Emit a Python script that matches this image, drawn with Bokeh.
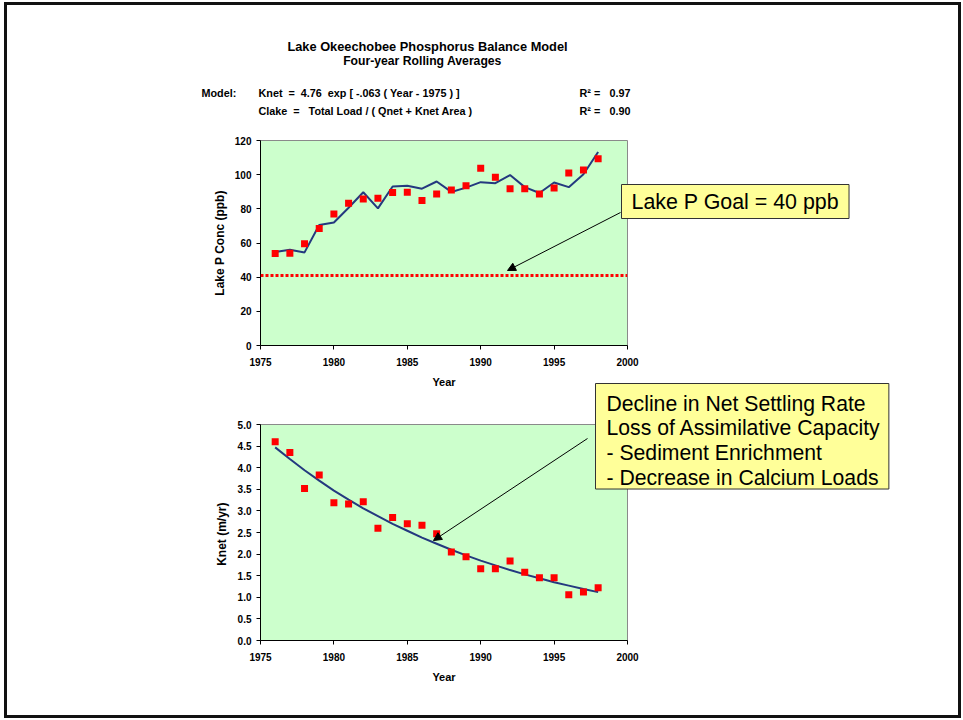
from bokeh.plotting import figure
from bokeh.layouts import column
from bokeh.models import (Range1d, FixedTicker, PrintfTickFormatter, Label, Arrow,
                          NormalHead, Span)
from bokeh.embed import file_html
from bokeh.resources import INLINE

# ---------------- data ----------------
years = list(range(1976, 1999))
conc_observed = [53.8, 54.0, 59.5, 68.5, 77.0, 83.3, 85.8, 86.2, 89.5, 89.7, 84.9, 88.7,
                 91.0, 93.5, 103.7, 98.5, 91.8, 91.8, 88.7, 92.2, 101.0, 102.7, 109.3]
conc_model = [54.7, 56.0, 54.5, 70.5, 72.0, 80.6, 89.7, 80.3, 93.1, 93.5, 91.8, 96.0,
              89.9, 92.4, 95.6, 95.0, 99.8, 92.7, 89.3, 95.4, 92.7, 100.2, 113.3]
knet_observed = [4.60, 4.35, 3.52, 3.83, 3.19, 3.16, 3.21, 2.60, 2.85, 2.70, 2.67, 2.47,
                 2.05, 1.94, 1.66, 1.66, 1.84, 1.58, 1.45, 1.45, 1.06, 1.12, 1.22]
knet_model = [4.47, 4.20, 3.94, 3.70, 3.47, 3.26, 3.06, 2.88, 2.70, 2.54, 2.38, 2.24,
              2.10, 1.97, 1.85, 1.74, 1.63, 1.53, 1.44, 1.35, 1.27, 1.19, 1.12]
goal_level = 41
x_ticks = [1975, 1980, 1985, 1990, 1995, 2000]
conc_ticks = [0, 20, 40, 60, 80, 100, 120]
knet_ticks = [0.0, 0.5, 1.0, 1.5, 2.0, 2.5, 3.0, 3.5, 4.0, 4.5, 5.0]

NB = "\u00a0"
title_text = "Lake Okeechobee Phosphorus Balance Model"
subtitle_text = "Four-year Rolling Averages"
model_lines = [f"Knet {NB}={NB} 4.76 {NB}exp [ -.063 ( Year - 1975 ) ]",
               f"Clake {NB}={NB}{NB} Total Load / ( Qnet + Knet Area )"]
r2_values = ["0.97", "0.90"]
callout1 = "Lake P Goal = 40 ppb"
callout2 = ("Decline in Net Settling Rate\nLoss of Assimilative Capacity\n"
            "- Sediment Enrichment\n- Decrease in Calcium Loads")

FONT = "Liberation Sans"
GREEN = "#CCFFCC"
RED = "#FF0000"
NAVY = "#24397F"

# ---------------- layout (page pixel geometry) ----------------
X0, Y0 = 7, 5      # page position of the inner area (margin + 3px border)
W, H = 951, 710
FL, FR = 260, 627  # frame left/right in page px


def make_fig(top_page, bottom_page, frame_top, frame_bottom, yr):
    h = bottom_page - top_page
    p = figure(width=W, height=h, output_backend="svg", toolbar_location=None,
               x_range=Range1d(1975, 2000), y_range=yr,
               min_border_left=FL - X0, min_border_right=W - (FR - X0),
               min_border_top=frame_top - top_page,
               min_border_bottom=bottom_page - frame_bottom)
    p.background_fill_color = GREEN
    p.border_fill_color = "white"
    p.outline_line_color = "#8a8a8a"
    p.outline_line_width = 1
    p.grid.visible = False
    for ax in (p.xaxis[0], p.yaxis[0]):
        ax.axis_line_color = "black"
        ax.major_tick_line_color = "black"
        ax.major_tick_out = 4
        ax.major_tick_in = 0
        ax.minor_tick_line_color = None
        ax.major_label_text_font = FONT
        ax.major_label_text_font_style = "bold"
        ax.major_label_text_font_size = "10px"
        ax.major_label_text_color = "black"
        ax.axis_label_text_font = FONT
        ax.axis_label_text_font_style = "bold"
        ax.axis_label_text_font_size = "12px"
        ax.axis_label_text_color = "black"
    p.xaxis.ticker = FixedTicker(ticks=x_ticks)
    p.xaxis.major_label_standoff = 8
    p.xaxis.axis_label = "Year"
    p.xaxis.axis_label_standoff = 7
    p.xaxis.axis_label_text_font_size = "11px"
    return p


# ---------------- top chart ----------------
p1 = make_fig(Y0, 390, 140, 348, Range1d(0, 120))
p1.yaxis.ticker = FixedTicker(ticks=conc_ticks)
p1.yaxis.axis_label = "Lake P Conc (ppb)"
p1.yaxis.axis_label_standoff = 5
p1.line(years, conc_model, line_color=NAVY, line_width=2)
p1.scatter(years, conc_observed, marker="square", size=7, fill_color=RED, line_color=None)
p1.add_layout(Span(location=goal_level, dimension="width", line_color=RED,
                   line_width=3, line_dash="3 2"))

# ---------------- bottom chart ----------------
p2 = make_fig(390, Y0 + H, 424, 640, Range1d(0, 5))
p2.yaxis.ticker = FixedTicker(ticks=knet_ticks)
p2.yaxis.formatter = PrintfTickFormatter(format="%.1f")
p2.yaxis.axis_label = "Knet  (m/yr)"
p2.yaxis.axis_label_standoff = 6
p2.line(years, knet_model, line_color=NAVY, line_width=2)
p2.scatter(years, knet_observed, marker="square", size=7, fill_color=RED, line_color=None)

# ---------------- transparent overlay for texts, callouts and arrows ----------------
ov = figure(width=W, height=H, output_backend="svg", toolbar_location=None,
            x_range=Range1d(X0, X0 + W), y_range=Range1d(Y0 + H, Y0),
            x_axis_location=None, y_axis_location=None, min_border=0,
            styles={"margin-top": f"-{H}px"})
ov.frame_align = False
ov.grid.visible = False
ov.outline_line_color = None
ov.background_fill_alpha = 0
ov.border_fill_alpha = 0


def lab(x, y, text, size, style="bold", align="left", baseline="middle", **kw):
    ov.add_layout(Label(x=x, y=y, text=text, text_font=FONT, text_font_size=size,
                        text_font_style=style, text_align=align, text_baseline=baseline,
                        text_color="black", **kw))


lab(427, 46, title_text, "12.8px", align="center")
lab(422, 60, subtitle_text, "12.2px", align="center")
lab(201, 92, "Model:", "10.8px")
for i, (ml, r2) in enumerate(zip(model_lines, r2_values)):
    yy = 92 + i * 18.5
    lab(258, yy, ml, "10.8px")
    lab(579, yy, "R² =", "10.8px")
    lab(609, yy, r2, "10.8px")

lab(621, 184, callout1, "21.4px", style="normal", baseline="top",
    background_fill_color="#FFFF99", border_line_color="#333333", border_line_width=1,
    padding=dict(left=10, right=10, top=5, bottom=5))
lab(595, 383, callout2, "21.2px", style="normal", baseline="top",
    background_fill_color="#FFFF99", border_line_color="#333333", border_line_width=1,
    padding=dict(left=11, right=8, top=8, bottom=0), text_line_height=1.08)

for (xs, ys, xe, ye) in [(620, 212, 507, 270), (587, 438, 433, 540)]:
    ov.add_layout(Arrow(end=NormalHead(size=8, fill_color="black", line_color="black"),
                        x_start=xs, y_start=ys, x_end=xe, y_end=ye,
                        line_width=1, line_color="black"))

layout = column(p1, p2, ov, spacing=0,
                styles={"border": "3px solid #111111", "margin-left": "4px",
                        "margin-top": "2px"})

open("out.html", "w").write(file_html(layout, INLINE))
